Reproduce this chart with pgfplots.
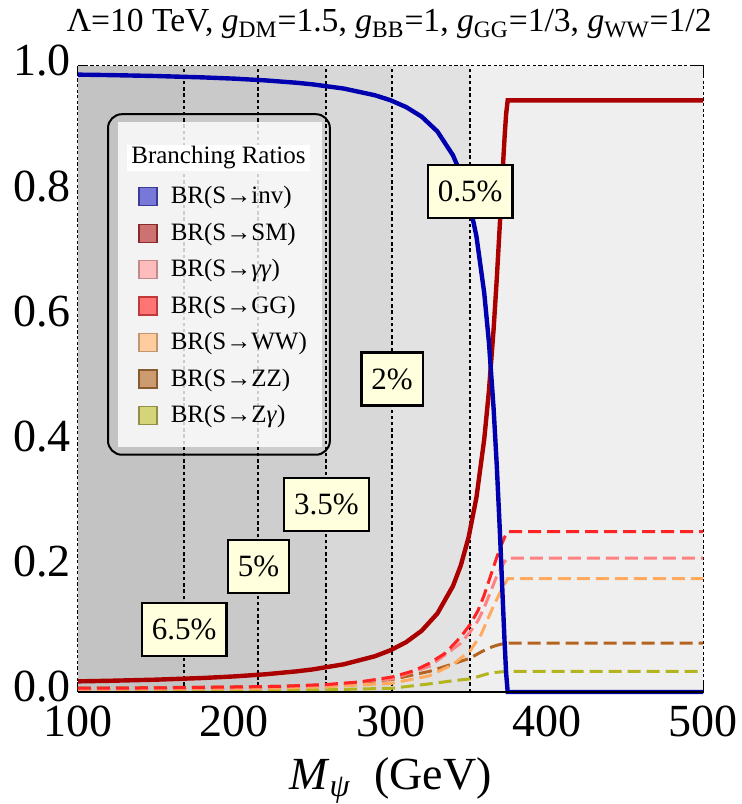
\documentclass[border=0pt]{standalone}
\usepackage{pgfplots}
\pgfplotsset{compat=1.18}
\usepackage{fontspec}
\setmainfont{Liberation Serif}
\definecolor{cinv}{RGB}{0,0,175}
\definecolor{csm}{RGB}{170,0,0}
\definecolor{cgg}{RGB}{255,35,35}
\definecolor{caa}{RGB}{255,130,130}
\definecolor{cww}{RGB}{255,170,95}
\definecolor{czz}{RGB}{180,100,30}
\definecolor{cza}{RGB}{180,180,30}
\definecolor{g1}{RGB}{195,195,195}
\definecolor{g2}{RGB}{201,201,201}
\definecolor{g3}{RGB}{206,206,206}
\definecolor{g4}{RGB}{216,216,216}
\definecolor{g5}{RGB}{226,226,226}
\definecolor{g6}{RGB}{239,239,239}
\definecolor{ly}{RGB}{255,255,222}
\begin{document}
\begin{tikzpicture}
\path[use as bounding box] (-39pt,-56pt) rectangle (332pt,346pt);
\begin{axis}[name=ax, at={(0,0)}, anchor=south west,
 scale only axis, width=312.5pt, height=313pt,
 xmin=100, xmax=500, ymin=0, ymax=1, clip=false,
 axis line style={black, line width=0.8pt, dash pattern=on 1.6pt off 1.2pt},
 xtick={100,200,300,400,500}, ytick={0,0.2,0.4,0.6,0.8,1},
 minor x tick num=4, minor y tick num=3,
 tick align=inside, major tick length=5pt, minor tick length=2.5pt,
 tick style={black, line width=0.6pt, solid},
 /pgf/number format/assume math mode=true,
 yticklabel style={/pgf/number format/fixed, /pgf/number format/fixed zerofill, /pgf/number format/precision=1, font=\fontsize{23}{23}\selectfont, inner sep=0pt, anchor=east, xshift=-3.5pt, yshift=2.5pt},
 xticklabel style={font=\fontsize{23}{23}\selectfont, inner sep=0pt, anchor=base, yshift=-22pt},
 title={Λ=10 TeV, \textit{g}\textsubscript{DM}=1.5, \textit{g}\textsubscript{BB}=1, \textit{g}\textsubscript{GG}=1/3, \textit{g}\textsubscript{WW}=1/2},
 title style={at={(axis description cs:1.0144,1)}, anchor=base east, yshift=11pt, inner sep=0pt, font=\fontsize{16.8}{17}\selectfont},
 xlabel={\textit{M}\textsubscript{\textit{ψ}}\ \ (GeV)},
 xlabel style={at={(axis description cs:0.5,0)}, anchor=base, yshift=-48.5pt, inner sep=0pt, font=\fontsize{23}{23}\selectfont},
 legend style={at={(axis description cs:0.096,0.808)}, anchor=north west, draw=none, fill=none, inner sep=0pt, row sep=8.05pt, column sep=6.5pt, font=\fontsize{12.5}{13}\selectfont, nodes={inner sep=0pt}},
 legend cell align=left,
 legend image code/.code={\draw[#1] (0pt,-4.5pt) rectangle (9pt,4.5pt);},
]
% background shading
\addplot[fill=g6, draw=none, forget plot] coordinates {(100,1)(500,1)} \closedcycle;
\addplot[fill=g5, draw=none, forget plot] coordinates {(100,1)(351,1)} \closedcycle;
\addplot[fill=g4, draw=none, forget plot] coordinates {(100,1)(301,1)} \closedcycle;
\addplot[fill=g3, draw=none, forget plot] coordinates {(100,1)(259,1)} \closedcycle;
\addplot[fill=g2, draw=none, forget plot] coordinates {(100,1)(215.5,1)} \closedcycle;
\addplot[fill=g1, draw=none, forget plot] coordinates {(100,1)(168,1)} \closedcycle;
% vertical dotted lines
\addplot[black, line width=1pt, dash pattern=on 1.7pt off 1.4pt, forget plot] coordinates {(168,0)(168,1)};
\addplot[black, line width=1pt, dash pattern=on 1.7pt off 1.4pt, forget plot] coordinates {(215.5,0)(215.5,1)};
\addplot[black, line width=1pt, dash pattern=on 1.7pt off 1.4pt, forget plot] coordinates {(259,0)(259,1)};
\addplot[black, line width=1pt, dash pattern=on 1.7pt off 1.4pt, forget plot] coordinates {(301,0)(301,1)};
\addplot[black, line width=1pt, dash pattern=on 1.7pt off 1.4pt, forget plot] coordinates {(351,0)(351,1)};
% dashed SM channels
\addplot[cza, line width=1.5pt, dash pattern=on 6.5pt off 3pt, forget plot] coordinates {(100,0.002)(200,0.0024)(229,0.0027)(259,0.0035)(301,0.006)(325,0.013)(340,0.018)(351,0.021)(358,0.026)(362,0.029)(366,0.031)(370,0.032)(375,0.033)(500,0.033)};
\addplot[czz, line width=1.5pt, dash pattern=on 6.5pt off 3pt, forget plot] coordinates {(100,0.006)(200,0.008)(229,0.009)(259,0.011)(301,0.020)(325,0.033)(340,0.045)(351,0.054)(358,0.064)(362,0.069)(366,0.073)(370,0.076)(375,0.078)(500,0.078)};
\addplot[cww, line width=1.5pt, dash pattern=on 6.5pt off 3pt, forget plot] coordinates {(100,0.004)(200,0.0055)(229,0.0064)(259,0.0085)(301,0.014)(325,0.026)(340,0.044)(351,0.066)(358,0.092)(362,0.115)(366,0.138)(370,0.158)(373,0.172)(375,0.181)(500,0.181)};
\addplot[caa, line width=1.5pt, dash pattern=on 6.5pt off 3pt, forget plot] coordinates {(100,0.005)(200,0.0072)(229,0.0085)(259,0.011)(301,0.021)(325,0.041)(345,0.078)(351,0.096)(356,0.114)(360,0.135)(364,0.160)(368,0.185)(371,0.200)(373,0.208)(375,0.214)(500,0.214)};
\addplot[cgg, line width=1.5pt, dash pattern=on 6.5pt off 3pt, forget plot] coordinates {(100,0.006)(150,0.0065)(200,0.008)(229,0.009)(259,0.012)(280,0.016)(301,0.024)(315,0.034)(325,0.046)(335,0.062)(345,0.088)(351,0.108)(356,0.130)(360,0.155)(364,0.185)(368,0.215)(371,0.235)(373,0.247)(375,0.256)(500,0.256)};
% SM total
\addplot[csm, line width=2.2pt, forget plot] coordinates {(100,0.0170)(120,0.0179)(150,0.0197)(180,0.0224)(200,0.0249)(220,0.0283)(240,0.0330)(250,0.0360)(270,0.0442)(290,0.0571)(300,0.0667)(310,0.0796)(320,0.0980)(330,0.1254)(340,0.1694)(345,0.2023)(350,0.2472)(355,0.3108)(360,0.4040)(363,0.4812)(366,0.5798)(368,0.6591)(370,0.7482)(372,0.8417)(373,0.8857)(374,0.9231)(375,0.945)(500,0.945)};
% invisible
\addplot[cinv, line width=2.2pt, forget plot] coordinates {(100,0.9862)(120,0.9855)(150,0.9840)(180,0.9818)(200,0.9798)(220,0.9770)(240,0.9732)(250,0.9707)(270,0.9640)(290,0.9533)(300,0.9453)(310,0.9344)(320,0.9190)(330,0.8955)(340,0.8573)(345,0.8281)(350,0.7873)(355,0.7280)(360,0.6372)(363,0.5584)(366,0.4524)(368,0.3627)(370,0.2564)(372,0.1386)(373,0.0807)(374,0.0302)(375,0)(500,0)};
% legend
\addlegendimage{fill={rgb,255:red,120;green,120;blue,216}, draw={rgb,255:red,58;green,58;blue,152}, line width=0.7pt}
\addlegendentry{BR(S→inv)}
\addlegendimage{fill={rgb,255:red,204;green,114;blue,114}, draw={rgb,255:red,140;green,42;blue,42}, line width=0.7pt}
\addlegendentry{BR(S→SM)}
\addlegendimage{fill={rgb,255:red,255;green,188;blue,188}, draw={rgb,255:red,192;green,138;blue,138}, line width=0.7pt}
\addlegendentry{BR(S→\textit{γγ})}
\addlegendimage{fill={rgb,255:red,255;green,116;blue,116}, draw={rgb,255:red,192;green,58;blue,58}, line width=0.7pt}
\addlegendentry{BR(S→GG)}
\addlegendimage{fill={rgb,255:red,255;green,204;blue,160}, draw={rgb,255:red,192;green,150;blue,112}, line width=0.7pt}
\addlegendentry{BR(S→WW)}
\addlegendimage{fill={rgb,255:red,204;green,156;blue,112}, draw={rgb,255:red,138;green,90;blue,48}, line width=0.7pt}
\addlegendentry{BR(S→ZZ)}
\addlegendimage{fill={rgb,255:red,212;green,212;blue,120}, draw={rgb,255:red,144;green,144;blue,72}, line width=0.7pt}
\addlegendentry{BR(S→Z\textit{γ})}
% solid bottom frame line
\draw[black, line width=0.8pt] (axis description cs:0,0) -- (axis description cs:1,0);
% legend panel and frame
\fill[white, fill opacity=0.8] (axis description cs:0.064,0.392) rectangle (axis description cs:0.390,0.910);
\draw[black, line width=1pt, rounded corners=7pt] (axis description cs:0.048,0.379) rectangle (axis description cs:0.403,0.923);
\node[fill=white, inner xsep=2pt, inner ysep=1pt, font=\fontsize{12.5}{13}\selectfont] at (axis description cs:0.2248,0.853) {Branching Ratios};
% percentage labels
\tikzset{pl/.style={draw=black, line width=1.1pt, fill=ly, font=\fontsize{15.5}{16}\selectfont, inner xsep=5pt, minimum height=26.5pt}}
\node[pl] at (axis cs:168,0.1) {6.5\%};
\node[pl] at (axis cs:215.5,0.2) {5\%};
\node[pl] at (axis cs:259,0.3) {3.5\%};
\node[pl] at (axis cs:301,0.5) {2\%};
\node[pl] at (axis cs:351,0.8) {0.5\%};
\end{axis}
\end{tikzpicture}
\end{document}
